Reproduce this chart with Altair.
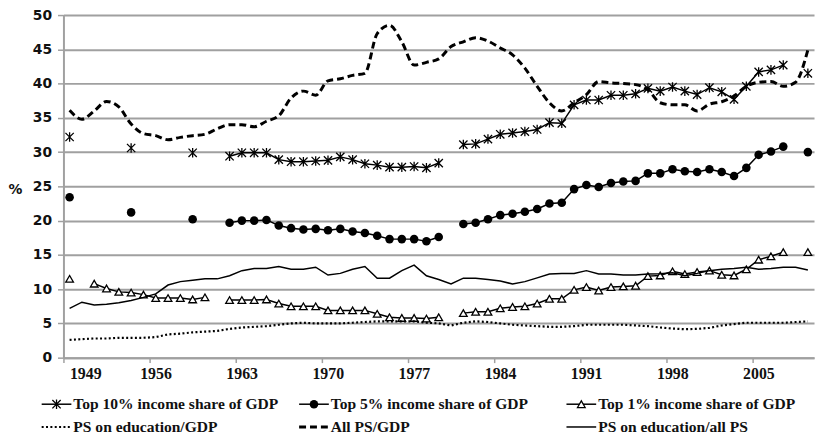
import altair as alt
import pandas as pd

years = list(range(1949, 2010))

top10 = [32.2, None, None, None, None, 30.6, None, None, None, None,
         29.9, None, None, 29.4, 29.9, 29.9, 29.9, 28.9, 28.6, 28.6,
         28.7, 28.8, 29.3, 28.9, 28.3, 28.1, 27.8, 27.8, 27.9, 27.7,
         28.4, None, 31.1, 31.2, 31.9, 32.6, 32.8, 33.0, 33.3, 34.3,
         34.2, 36.9, 37.6, 37.6, 38.3, 38.3, 38.5, 39.3, 38.9, 39.5,
         38.9, 38.4, 39.4, 38.8, 37.7, 39.6, 41.7, 42.0, 42.7, None,
         41.5]

top5 = [23.4, None, None, None, None, 21.2, None, None, None, None,
        20.2, None, None, 19.7, 20.0, 20.0, 20.1, 19.3, 18.9, 18.7,
        18.8, 18.6, 18.8, 18.4, 18.2, 17.8, 17.3, 17.3, 17.3, 17.0,
        17.6, None, 19.5, 19.7, 20.2, 20.8, 21.0, 21.3, 21.7, 22.5,
        22.6, 24.6, 25.2, 24.9, 25.5, 25.7, 25.8, 26.9, 26.9, 27.5,
        27.2, 27.1, 27.5, 27.1, 26.5, 27.7, 29.6, 30.1, 30.8, None,
        30.0]

top1 = [11.5, None, 10.8, 10.1, 9.6, 9.5, 9.2, 8.7, 8.7, 8.7,
        8.5, 8.8, None, 8.4, 8.4, 8.4, 8.5, 7.9, 7.5, 7.5,
        7.5, 6.9, 6.9, 6.9, 6.9, 6.4, 5.9, 5.8, 5.8, 5.7,
        5.9, None, 6.5, 6.7, 6.7, 7.2, 7.4, 7.5, 7.9, 8.6,
        8.6, 9.9, 10.3, 9.8, 10.3, 10.4, 10.5, 11.9, 12.0, 12.6,
        12.2, 12.5, 12.7, 12.1, 12.0, 12.9, 14.3, 14.8, 15.4, None,
        15.4]

edu_gdp = [2.6, 2.7, 2.8, 2.8, 2.9, 2.9, 2.9, 3.0, 3.4, 3.5,
           3.7, 3.8, 3.9, 4.2, 4.4, 4.5, 4.6, 4.8, 5.0, 5.1,
           5.0, 5.0, 5.0, 5.1, 5.2, 5.3, 5.3, 5.3, 5.3, 5.1,
           5.0, 4.7, 5.1, 5.3, 5.2, 5.0, 4.8, 4.7, 4.6, 4.5,
           4.5, 4.6, 4.8, 4.8, 4.8, 4.8, 4.7, 4.6, 4.4, 4.25,
           4.15, 4.2, 4.35, 4.7, 4.9, 5.1, 5.1, 5.1, 5.1, 5.2,
           5.3]

all_ps = [36.1, 34.8, 36.0, 37.4, 36.6, 34.1, 32.7, 32.4, 31.8, 32.15,
          32.4, 32.6, 33.4, 34.0, 34.0, 33.7, 34.5, 35.3, 37.9, 38.9,
          38.3, 40.4, 40.7, 41.2, 41.5, 47.3, 48.5, 46.1, 42.7, 43.1,
          43.6, 45.4, 46.1, 46.7, 46.2, 45.2, 44.2, 42.25, 39.6, 37.2,
          36.0, 37.2, 38.4, 40.3, 40.1, 40.0, 39.85, 39.1, 37.2, 36.9,
          36.9, 36.0, 37.0, 37.35, 38.2, 39.6, 40.2, 40.3, 39.6, 40.2,
          44.9]

edu_ps = [7.2, 8.1, 7.7, 7.8, 8.0, 8.35, 8.8, 9.3, 10.6, 11.1,
          11.3, 11.5, 11.5, 11.95, 12.7, 13.0, 13.0, 13.3, 12.9, 12.9,
          13.2, 12.05, 12.3, 12.9, 13.3, 11.6, 11.6, 12.7, 13.5, 11.95,
          11.4, 10.75, 11.6, 11.6, 11.4, 11.2, 10.75, 11.1, 11.65, 12.2,
          12.3, 12.3, 12.7, 12.2, 12.2, 12.05, 12.05, 12.2, 12.25, 12.4,
          11.95, 12.3, 12.7, 12.9, 13.0, 13.2, 12.9, 13.0, 13.2, 13.2,
          12.8]

series_names = [
    "Top 10% income share of GDP",
    "Top 5% income share of GDP",
    "Top 1% income share of GDP",
    "PS on education/GDP",
    "All PS/GDP",
    "PS on education/all PS",
]
series_values = [top10, top5, top1, edu_gdp, all_ps, edu_ps]

tick_years = [1949, 1956, 1963, 1970, 1977, 1984, 1991, 1998, 2005]
y_ticks = [0, 5, 10, 15, 20, 25, 30, 35, 40, 45, 50]

ASTERISK = "M-1,-1L1,1M-1,1L1,-1M0,-1.15L0,1.15"
styles = {
    "Top 10% income share of GDP": dict(width=1.5, shape=ASTERISK, filled=False, size=70),
    "Top 5% income share of GDP": dict(width=1.5, shape="circle", filled=True, size=75),
    "Top 1% income share of GDP": dict(width=1.5, shape="triangle-up", filled=False, size=60),
    "PS on education/GDP": dict(width=2.2, dash=[2, 2.4]),
    "All PS/GDP": dict(width=3, dash=[7, 4], interpolate="monotone"),
    "PS on education/all PS": dict(width=1.5),
}

rows = []
for name, vals in zip(series_names, series_values):
    seg = 0
    for yr, v in zip(years, vals):
        if v is None:
            seg += 1
            continue
        rows.append({"series": name, "year": yr, "value": v, "seg": seg})
df = pd.DataFrame(rows)

# legend layout (pixels relative to plot origin)
col_x = [-22, 238, 508]
row_y = [393, 416]
leg_rows = []
for i, name in enumerate(series_names):
    lx = col_x[i % 3]
    leg_rows.append({"series": name, "lx": lx, "lx2": lx + 30, "lm": lx + 15,
                     "tx": lx + 32, "ly": row_y[i // 3]})
leg_df = pd.DataFrame(leg_rows)

GRID = "#a0a0a0"
X = alt.X("year:Q",
          scale=alt.Scale(domain=[1948.5, 2009.5], nice=False, zero=False),
          axis=alt.Axis(values=[t - 0.5 for t in tick_years],
                        labelExpr="format(datum.value + 0.5, 'd')",
                        labelOffset=6, title=None, grid=False,
                        domainColor=GRID, domainWidth=2, tickColor=GRID,
                        tickWidth=1.5, tickSize=5, labelPadding=3,
                        labelFont="Liberation Serif", labelFontSize=16,
                        labelFontWeight="bold", labelColor="#111"))
Y = alt.Y("value:Q",
          scale=alt.Scale(domain=[0, 50], nice=False),
          axis=alt.Axis(values=y_ticks, title="%", titleAngle=0,
                        titleX=-49, titleY=176, titleAlign="center",
                        titleBaseline="middle", titleFont="DejaVu Sans",
                        titleFontSize=14, titleFontWeight="bold",
                        titleColor="#111",
                        grid=True, gridColor=GRID, gridWidth=2,
                        domainColor=GRID, domainWidth=2, tickColor=GRID,
                        tickWidth=1.5, tickSize=6, labelPadding=6,
                        labelFont="DejaVu Sans", labelFontSize=14,
                        labelFontWeight="bold", labelColor="#111"))

main_layers = []
legend_layers = []
LX = alt.X("lx:Q", scale=None, axis=None)
LY = alt.Y("ly:Q", scale=None, axis=None)
for name in series_names:
    st = styles[name]
    base = alt.Chart(df).transform_filter(alt.datum.series == name)
    lk = dict(color="black", strokeWidth=st["width"])
    if "dash" in st:
        lk["strokeDash"] = st["dash"]
    if "interpolate" in st:
        lk["interpolate"] = st["interpolate"]
    main_layers.append(base.mark_line(**lk).encode(x=X, y=Y, detail="seg:N"))
    lbase = alt.Chart(leg_df).transform_filter(alt.datum.series == name)
    rk = dict(color="black", strokeWidth=st["width"])
    if "dash" in st:
        rk["strokeDash"] = st["dash"]
    legend_layers.append(lbase.mark_rule(**rk).encode(x=LX, x2="lx2:Q", y=LY))
    if "shape" in st:
        pk = dict(shape=st["shape"], filled=st["filled"], size=st["size"],
                  color="black", opacity=1, strokeWidth=1.3)
        if st["filled"]:
            pk["fill"] = "black"
        else:
            pk["fill"] = "white"
            pk["fillOpacity"] = 1
        main_layers.append(base.mark_point(**pk).encode(x=X, y=Y))
        legend_layers.append(lbase.mark_point(**pk).encode(
            x=alt.X("lm:Q", scale=None, axis=None), y=LY))
    legend_layers.append(lbase.mark_text(
        align="left", baseline="middle", font="Liberation Serif",
        fontSize=15.7, fontWeight="bold", color="#111").encode(
        x=alt.X("tx:Q", scale=None, axis=None), y=LY, text="series:N"))

main = alt.layer(*main_layers)
legend = alt.layer(*legend_layers)

chart = alt.layer(main, legend).resolve_scale(
    x="independent", y="independent"
).properties(
    width=758, height=346,
    padding={"left": 56, "top": 5, "right": 2, "bottom": 79},
    autosize=alt.AutoSizeParams(type="none"),
    background="white",
).configure_view(stroke=None)

chart.save("out.html", embed_options={"renderer": "svg", "actions": False})
